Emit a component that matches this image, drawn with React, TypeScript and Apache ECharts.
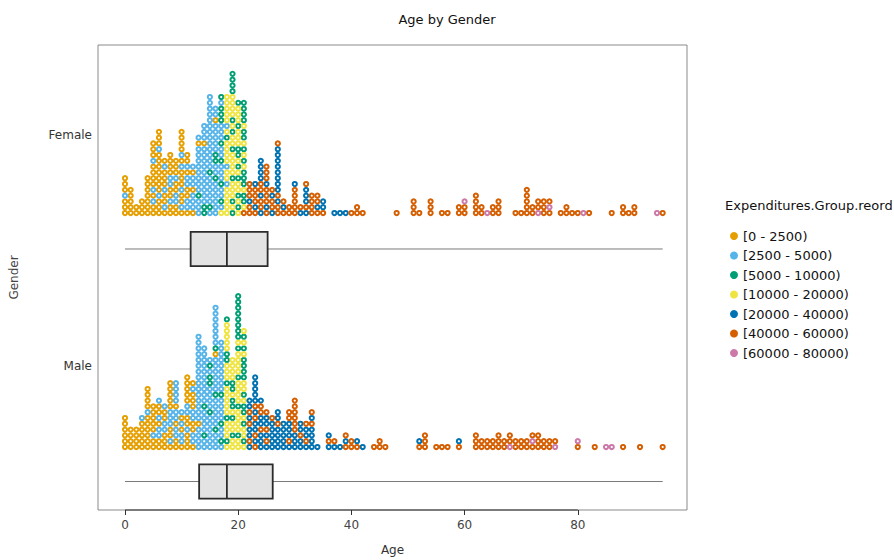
import React, { useEffect, useRef } from "react";
import * as echarts from "echarts";

// ---------- data ----------
const groupNames = [
  "[0 - 2500)",
  "[2500 - 5000)",
  "[5000 - 10000)",
  "[10000 - 20000)",
  "[20000 - 40000)",
  "[40000 - 60000)",
  "[60000 - 80000)",
];
const groupCodes = ["a", "b", "c", "d", "e", "f", "g"];
const groupColors = ["#E69F00", "#56B4E9", "#009E73", "#F0E442", "#0072B2", "#D55E00", "#CC79A7"];

const genders = ["Female", "Male"];

// each stack lists the dots of one age from the bottom up, one letter per person (group code)
const femaleAges = [
  0, 1, 2, 3, 4, 5, 6, 7, 8, 9, 10, 11, 12, 13, 14, 15, 16, 17, 18, 19, 20, 21, 22, 23, 24, 25, 26, 27, 28, 29, 30,
  31, 32, 33, 34, 35, 37, 38, 39, 40, 41, 42, 48, 51, 52, 54, 56, 57, 59, 60, 62, 63, 64, 65, 66, 69, 70, 71, 72, 73,
  74, 75, 77, 78, 79, 80, 81, 82, 86, 88, 89, 90, 94, 95,
];
const femaleStacks = [
  "aaabaaa", "aaaaa", "aa", "aaa", "aaaaaaa", "aababaaaabaaa", "aaabaaaaaaabaaa", "abaabaaaba", "aabaabbaaaa",
  "aabbaabaaa", "abaabaaababaaaa", "abbaabbabaa", "abbbabbab", "bbbcbbbbbbbbab", "ccbbbbbbbbbbabbb",
  "bcbbbbbcbbbbbbbbbbbbb", "bbbbbbcbbccbbbbbabb", "dbcbbcbbbcbbcbbbcccbc", "dddddbddbddddcdbddddd",
  "cdcdddcddddcddcdcddddcccc", "dcdcddcdcdccdddcdddc", "fdccdcccdcdcdccdcccc", "ffefff", "fefffe", "effeffeeee",
  "fefffefff", "effef", "ffefeeeeeeeef", "fef", "ff", "fffffe", "ef", "efeeef", "ffff", "feff", "fee", "e", "e", "e",
  "f", "ff", "f", "f", "fff", "f", "fff", "f", "f", "ff", "ffg", "ffff", "ff", "g", "ff", "fff", "f", "f", "fffff",
  "ff", "gff", "fff", "fgf", "f", "ff", "f", "f", "g", "f", "f", "ff", "f", "ff", "g", "f",
];

const maleAges = [
  0, 1, 2, 3, 4, 5, 6, 7, 8, 9, 10, 11, 12, 13, 14, 15, 16, 17, 18, 19, 20, 21, 22, 23, 24, 25, 26, 27, 28, 29, 30,
  31, 32, 33, 34, 36, 37, 38, 39, 40, 41, 42, 44, 45, 46, 52, 53, 55, 56, 57, 59, 62, 63, 64, 65, 66, 67, 68, 69, 70,
  71, 72, 73, 74, 75, 76, 80, 83, 85, 86, 88, 91, 95,
];
const maleStacks = [
  "aaaaaa", "aaaa", "aaaa", "aaaaab", "aaaaaabaaaa", "aabaaaaa", "aabbabaab", "aaabbaab", "abaabbbaaaaa",
  "aabbabbabbbb", "abbabab", "aaabaabbaaaaa", "abbaabbaaaba", "bbbbabbbbbbbbbbbbbbb", "bbcbbbbcbbbbbbbbbb",
  "bbbbbbcbbbbccbcb", "bbbcbbbbbcbbbbbbacbbbbbbb", "bcbbcbbbbcbbbbbbbbb", "dcdddcdddddcdddccdddddc",
  "ddcddcdccdccdddd", "ddcddddcddddcddddcdcccccccc", "dcddcdccdcddccccdcdcd", "efeefefee", "fefeefefeeeee",
  "eeefeeffe", "efefeef", "eeeeef", "eeeefee", "eeeee", "efeeeff", "eeeffffff", "eefee", "efeef", "eeeefef", "e",
  "efe", "ef", "e", "fef", "ff", "fe", "e", "f", "ff", "f", "fe", "fff", "f", "f", "f", "fe", "fff", "ff", "ff", "ff",
  "fff", "ff", "gff", "ff", "ff", "ff", "fgf", "fff", "ff", "ff", "gf", "fg", "f", "g", "g", "f", "f", "f",
];

// [min, Q1, median, Q3, max]
const femaleBox = [0, 11.6, 18, 25.2, 95];
const maleBox = [0, 13.1, 18, 26.1, 95];

const xTicks = [0, 20, 40, 60, 80];

// ---------- layout (y in dot-step units) ----------
const X_MIN = -4.77;
const X_MAX = 99.3;
const Y_MAX = 80.17;
const BASE = { Female: 51.2, Male: 10.86 };
const BOX_Y = { Female: 45.0, Male: 4.91 };
const LABEL_Y = { Female: 64.66, Male: 24.83 };
const BOX_HALF = 2.96;

function buildPoints(ages: number[], stacks: string[], base: number, code: string) {
  const pts: number[][] = [];
  ages.forEach((age, i) => {
    const s = stacks[i];
    for (let k = 0; k < s.length; k++) {
      if (s[k] === code) pts.push([age, base + k]);
    }
  });
  return pts;
}

export default function App() {
  const ref = useRef<HTMLDivElement>(null);
  useEffect(() => {
    if (!ref.current) return;
    const chart = echarts.init(ref.current, undefined, { renderer: "svg" });
    const font = "DejaVu Sans";

    const scatterSeries = groupCodes.map((code, gi) => ({
      type: "scatter",
      name: groupNames[gi],
      symbol: "emptyCircle",
      symbolSize: 4.2,
      silent: true,
      itemStyle: { color: groupColors[gi], borderColor: groupColors[gi], borderWidth: 1.6, opacity: 1 },
      data: [
        ...buildPoints(femaleAges, femaleStacks, BASE.Female, code),
        ...buildPoints(maleAges, maleStacks, BASE.Male, code),
      ],
      z: 3,
    }));

    const boxData = [
      [...femaleBox, BOX_Y.Female],
      [...maleBox, BOX_Y.Male],
    ];

    const option: any = {
      animation: false,
      backgroundColor: "#ffffff",
      textStyle: { fontFamily: font },
      title: {
        text: "Age by Gender",
        left: 442,
        textAlign: "center",
        top: 8,
        textStyle: { fontFamily: font, fontSize: 13, fontWeight: "normal", color: "#111" },
      },
      grid: {
        left: 98,
        right: 207,
        top: 45,
        bottom: 50,
        show: true,
        borderColor: "#8a8a8a",
        borderWidth: 1,
        backgroundColor: "transparent",
        outerBoundsMode: "none",
        containLabel: false,
      },
      xAxis: {
        type: "value",
        min: X_MIN,
        max: X_MAX,
        name: "Age",
        nameLocation: "middle",
        nameGap: 34,
        nameTextStyle: { fontFamily: font, fontSize: 12, color: "#333" },
        axisLine: { show: false },
        splitLine: { show: false },
        axisTick: { show: true, length: 5, customValues: xTicks, lineStyle: { color: "#333" } },
        axisLabel: { customValues: xTicks, fontFamily: font, fontSize: 12, color: "#444", margin: 9 },
      },
      yAxis: {
        type: "value",
        min: 0,
        max: Y_MAX,
        name: "Gender",
        nameLocation: "middle",
        nameGap: 78,
        nameTextStyle: { fontFamily: font, fontSize: 12, color: "#444" },
        axisLine: { show: false },
        axisTick: { show: false },
        splitLine: { show: false },
        axisLabel: {
          customValues: [LABEL_Y.Male, LABEL_Y.Female],
          formatter: (v: number) => (v > Y_MAX / 2 ? genders[0] : genders[1]),
          fontFamily: font,
          fontSize: 12,
          color: "#333",
          margin: 6,
        },
      },
      legend: {
        orient: "vertical",
        left: 725,
        top: 224,
        itemWidth: 8,
        itemHeight: 8,
        itemGap: 5.5,
        icon: "circle",
        data: groupNames.map((n, i) => ({
          name: n,
          icon: "circle",
          itemStyle: { color: groupColors[i], borderWidth: 0 },
        })),
        textStyle: { fontFamily: font, fontSize: 13, color: "#111", lineHeight: 14, padding: [0, 0, 0, 0] },
        selectedMode: false,
      },
      graphic: [
        {
          type: "text",
          left: 725,
          top: 199,
          style: { text: "Expenditures.Group.reord", font: `13px "${font}"`, fill: "#111" },
        },
      ],
      series: [
        ...scatterSeries,
        {
          type: "custom",
          name: "box",
          silent: true,
          encode: { x: [0, 1, 2, 3, 4], y: 5 },
          data: boxData,
          z: 4,
          renderItem: (params: any, api: any) => {
            const yc = api.value(5);
            const pMin = api.coord([api.value(0), yc]);
            const pQ1 = api.coord([api.value(1), yc]);
            const pMed = api.coord([api.value(2), yc]);
            const pQ3 = api.coord([api.value(3), yc]);
            const pMax = api.coord([api.value(4), yc]);
            const h = api.size([0, BOX_HALF * 2])[1];
            return {
              type: "group",
              children: [
                {
                  type: "line",
                  shape: { x1: pMin[0], y1: pMin[1], x2: pMax[0], y2: pMax[1] },
                  style: { stroke: "#7a7a7a", lineWidth: 1 },
                },
                {
                  type: "rect",
                  shape: { x: pQ1[0], y: pQ1[1] - h / 2, width: pQ3[0] - pQ1[0], height: h },
                  style: { fill: "#E3E3E3", stroke: "#2b2b2b", lineWidth: 1.8 },
                },
                {
                  type: "line",
                  shape: { x1: pMed[0], y1: pMed[1] - h / 2, x2: pMed[0], y2: pMed[1] + h / 2 },
                  style: { stroke: "#2b2b2b", lineWidth: 1.8 },
                },
              ],
            };
          },
        },
        {
          type: "custom",
          name: "axisbar",
          silent: true,
          data: [[xTicks[0], xTicks[xTicks.length - 1]]],
          encode: { x: [0, 1] },
          z: 5,
          renderItem: (params: any, api: any) => {
            const p0 = api.coord([api.value(0), 0]);
            const p1 = api.coord([api.value(1), 0]);
            return {
              type: "line",
              shape: { x1: p0[0], y1: p0[1], x2: p1[0], y2: p1[1] },
              style: { stroke: "#333", lineWidth: 1.2 },
            };
          },
        },
      ],
    };
    chart.setOption(option);
    return () => chart.dispose();
  }, []);

  return <div ref={ref} style={{ width: 894, height: 560, position: "absolute", left: 0, top: 0 }} />;
}
